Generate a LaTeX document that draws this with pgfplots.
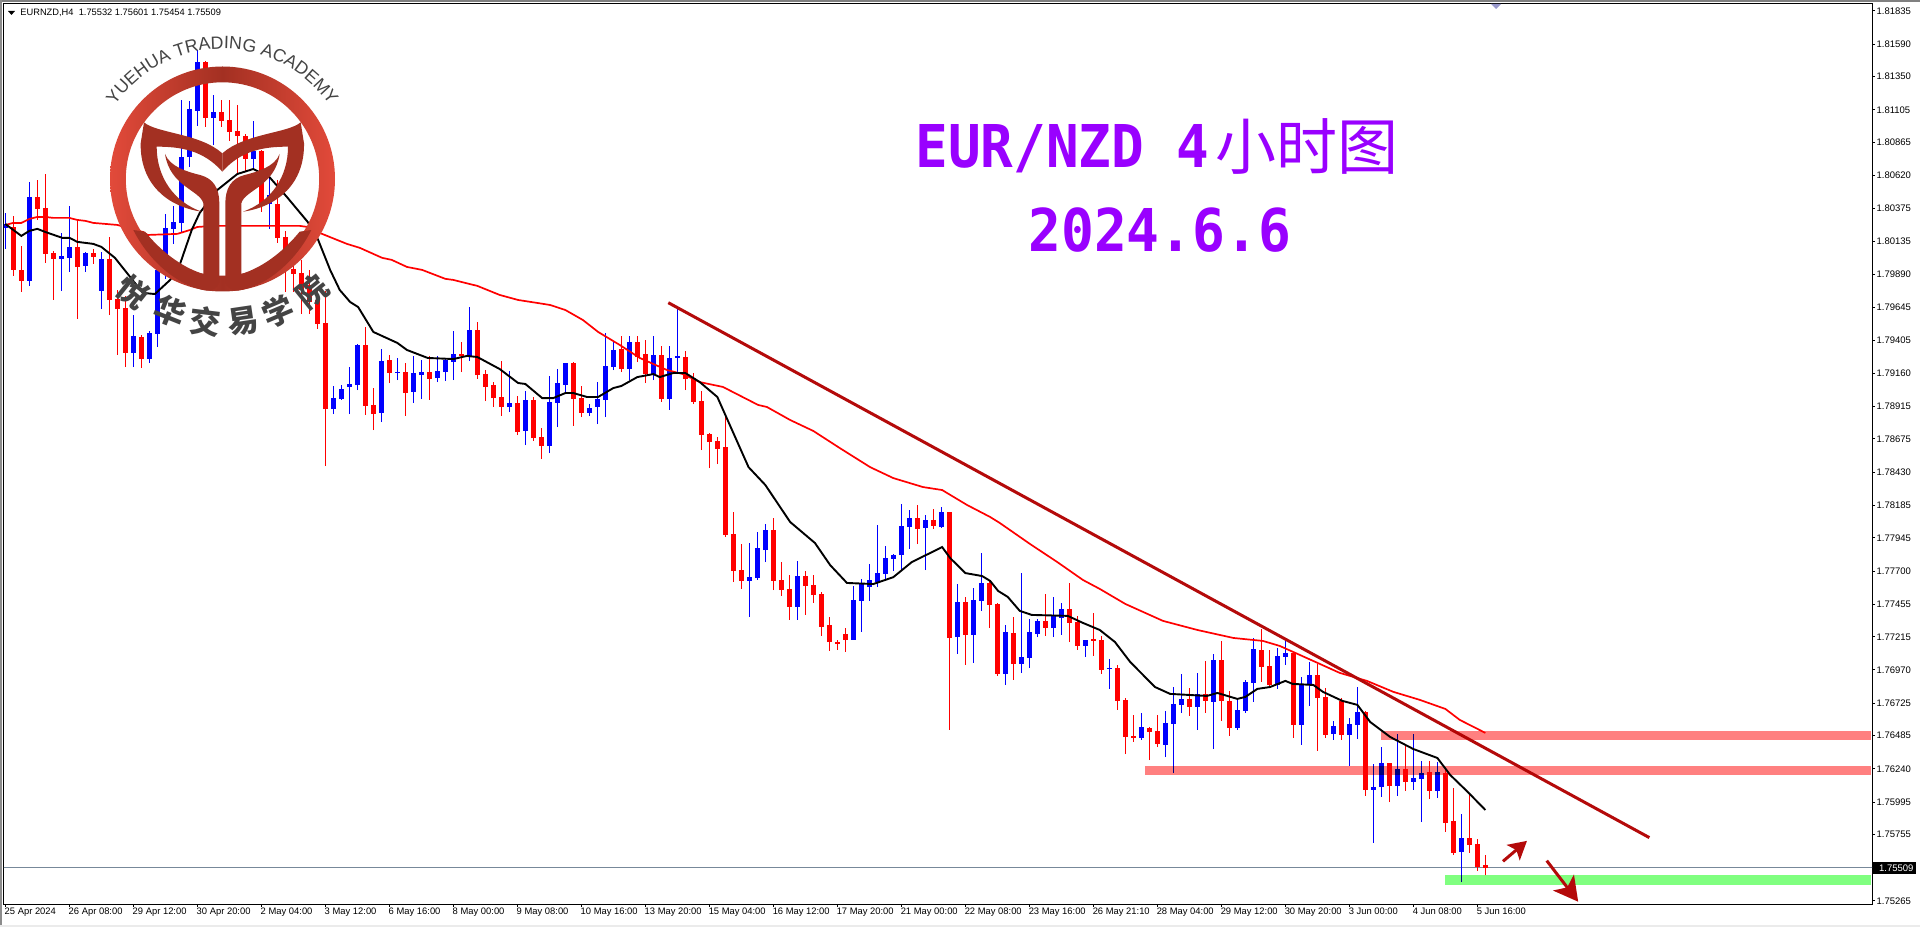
\documentclass[border=0pt]{standalone}
\usepackage{fontspec}
\usepackage{graphicx}
\usepackage{pgfplots}
\usepackage{pgfplotstable}
\pgfplotsset{compat=1.18}
\usetikzlibrary{arrows.meta,decorations.text}
\setmainfont{Liberation Sans}
\newfontfamily\cjk{Noto Sans CJK SC}
\newfontfamily\monob{DejaVu Sans Mono}
\definecolor{candleB}{HTML}{0000FF}
\definecolor{candleR}{HTML}{FF0000}
\definecolor{trend}{HTML}{B40A0A}
\definecolor{zoneR}{HTML}{FF8080}
\definecolor{zoneG}{HTML}{80FF80}
\definecolor{priceln}{HTML}{778899}
\definecolor{titlec}{HTML}{9900FF}
\definecolor{logoM}{HTML}{A33022}
\definecolor{logoE}{HTML}{E24A3A}
\definecolor{logoT}{HTML}{444444}
\pgfplotstableread{
i h t b l
1 1.80322 1.80240 1.79923 1.79879
2 1.80101 1.79923 1.79842 1.79760
4 1.80587 1.80461 1.80374 1.80292
5 1.80631 1.80381 1.80041 1.79975
6 1.80064 1.80049 1.80005 1.79701
9 1.80292 1.80093 1.79945 1.79561
11 1.80079 1.80049 1.80019 1.79967
13 1.80166 1.80005 1.79701 1.79590
14 1.79775 1.79709 1.79634 1.79295
15 1.79731 1.79642 1.79310 1.79206
17 1.79443 1.79428 1.79265 1.79199
25 1.81465 1.81458 1.81045 1.80978
27 1.81178 1.81089 1.81023 1.80978
28 1.81178 1.81030 1.80941 1.80875
29 1.81141 1.80949 1.80912 1.80639
30 1.80926 1.80912 1.80742 1.80646
32 1.80809 1.80801 1.80410 1.80351
34 1.80587 1.80410 1.80160 1.80123
35 1.80211 1.80166 1.79997 1.79760
36 1.79997 1.79931 1.79893 1.79760
37 1.79997 1.79901 1.79775 1.79597
38 1.79923 1.79812 1.79686 1.79597
39 1.79775 1.79701 1.79523 1.79487
40 1.79768 1.79531 1.78896 1.78475
45 1.79502 1.79369 1.78919 1.78852
46 1.79051 1.78926 1.78859 1.78741
48 1.79295 1.79258 1.79162 1.79088
50 1.79236 1.79169 1.79014 1.78845
53 1.79288 1.79169 1.79118 1.78963
57 1.79391 1.79302 1.79288 1.79169
59 1.79538 1.79480 1.79147 1.79118
60 1.79184 1.79154 1.79059 1.78955
61 1.79095 1.79073 1.78977 1.78911
62 1.79251 1.78985 1.78911 1.78845
64 1.78992 1.78941 1.78726 1.78704
66 1.78985 1.78963 1.78682 1.78660
67 1.78756 1.78689 1.78623 1.78526
71 1.79243 1.79236 1.78970 1.78771
72 1.79066 1.78977 1.78867 1.78837
77 1.79436 1.79339 1.79191 1.79169
79 1.79436 1.79391 1.79280 1.79243
80 1.79406 1.79302 1.79154 1.79088
82 1.79361 1.79295 1.78970 1.78948
85 1.79325 1.79280 1.79118 1.79036
86 1.79162 1.79125 1.78948 1.78933
87 1.79029 1.78955 1.78704 1.78593
88 1.78719 1.78711 1.78652 1.78460
89 1.78689 1.78660 1.78600 1.78489
90 1.78837 1.78615 1.77966 1.77951
91 1.78136 1.77973 1.77700 1.77619
92 1.77899 1.77707 1.77627 1.77568
96 1.78092 1.78003 1.77627 1.77560
97 1.77766 1.77634 1.77560 1.77516
98 1.77670 1.77568 1.77435 1.77339
100 1.77700 1.77663 1.77589 1.77376
101 1.77670 1.77597 1.77523 1.77465
102 1.77545 1.77530 1.77287 1.77221
103 1.77361 1.77302 1.77176 1.77111
104 1.77191 1.77176 1.77161 1.77118
105 1.77280 1.77235 1.77191 1.77103
114 1.78188 1.78092 1.78010 1.77899
116 1.78159 1.78077 1.78033 1.78010
118 1.78136 1.78136 1.77206 1.76527
120 1.77509 1.77472 1.77228 1.77007
123 1.77634 1.77612 1.77450 1.77280
124 1.77465 1.77457 1.76940 1.76926
126 1.77361 1.77243 1.77014 1.76896
130 1.77530 1.77332 1.77280 1.77221
133 1.77612 1.77420 1.77317 1.77176
134 1.77369 1.77324 1.77147 1.77118
136 1.77391 1.77199 1.77184 1.77074
137 1.77221 1.77191 1.76970 1.76940
139 1.77007 1.76985 1.76742 1.76675
140 1.76763 1.76749 1.76475 1.76349
141 1.76638 1.76483 1.76468 1.76438
143 1.76549 1.76542 1.76512 1.76305
144 1.76638 1.76520 1.76423 1.76401
148 1.76837 1.76756 1.76697 1.76631
150 1.77037 1.76793 1.76742 1.76653
152 1.77184 1.77044 1.76742 1.76594
153 1.76815 1.76742 1.76542 1.76483
157 1.77272 1.77118 1.76992 1.76881
158 1.77118 1.77000 1.76859 1.76852
161 1.77096 1.77096 1.76564 1.76468
164 1.77014 1.76933 1.76763 1.76372
165 1.76837 1.76771 1.76490 1.76468
167 1.76763 1.76742 1.76490 1.76453
170 1.76668 1.76660 1.76084 1.76040
173 1.76283 1.76283 1.76113 1.75995
175 1.76408 1.76239 1.76143 1.76077
178 1.76298 1.76217 1.76077 1.76017
180 1.76232 1.76210 1.75840 1.75774
181 1.76099 1.75855 1.75619 1.75604
183 1.76062 1.75729 1.75678 1.75619
184 1.75722 1.75685 1.75515 1.75486
185 1.75601 1.75532 1.75509 1.75454
}\redT
\pgfplotstableread{
i h t b l
0 1.80344 1.80262 1.80233 1.80079
3 1.80572 1.80461 1.79842 1.79805
7 1.80196 1.80027 1.80005 1.79768
8 1.80396 1.80093 1.80012 1.79908
10 1.80056 1.80049 1.79953 1.79908
12 1.80056 1.80005 1.79768 1.79634
16 1.79590 1.79436 1.79310 1.79206
18 1.79472 1.79458 1.79265 1.79236
19 1.79923 1.79923 1.79451 1.79354
20 1.80336 1.80233 1.79923 1.79857
21 1.80396 1.80277 1.80226 1.80115
22 1.81178 1.80757 1.80270 1.80196
23 1.81171 1.81111 1.80757 1.80684
24 1.81547 1.81458 1.81097 1.80986
26 1.81215 1.81089 1.81045 1.80845
31 1.81023 1.80801 1.80742 1.80661
33 1.80661 1.80477 1.80410 1.80226
41 1.79066 1.78977 1.78896 1.78859
42 1.79073 1.79044 1.78970 1.78963
43 1.79206 1.79081 1.79059 1.78859
44 1.79376 1.79369 1.79073 1.79036
47 1.79339 1.79251 1.78867 1.78800
49 1.79273 1.79169 1.79162 1.79110
51 1.79288 1.79162 1.79021 1.78941
52 1.79258 1.79169 1.79147 1.78970
54 1.79288 1.79177 1.79125 1.79095
55 1.79273 1.79258 1.79169 1.79103
56 1.79472 1.79302 1.79243 1.79110
58 1.79649 1.79480 1.79288 1.79251
63 1.79177 1.78941 1.78911 1.78874
65 1.79029 1.78963 1.78734 1.78630
68 1.79140 1.78948 1.78623 1.78571
69 1.79191 1.79088 1.78941 1.78763
70 1.79236 1.79236 1.79073 1.79007
73 1.78933 1.78904 1.78867 1.78845
74 1.79095 1.78970 1.78911 1.78785
75 1.79458 1.79214 1.78963 1.78837
76 1.79391 1.79332 1.79206 1.79184
78 1.79436 1.79391 1.79191 1.79110
81 1.79436 1.79295 1.79154 1.79110
83 1.79361 1.79273 1.78970 1.78889
84 1.79649 1.79288 1.79273 1.79154
93 1.77907 1.77655 1.77627 1.77361
94 1.77988 1.77870 1.77648 1.77634
95 1.78047 1.78003 1.77855 1.77766
99 1.77774 1.77663 1.77435 1.77339
106 1.77589 1.77487 1.77191 1.77191
107 1.77641 1.77604 1.77480 1.77250
108 1.77751 1.77634 1.77582 1.77480
109 1.78040 1.77685 1.77619 1.77582
110 1.77885 1.77796 1.77678 1.77641
111 1.77826 1.77818 1.77789 1.77700
112 1.78195 1.78033 1.77818 1.77707
113 1.78151 1.78092 1.78025 1.77863
115 1.78114 1.78077 1.78018 1.77707
117 1.78173 1.78136 1.78025 1.78018
119 1.77604 1.77472 1.77213 1.77088
121 1.77575 1.77487 1.77228 1.77022
122 1.77833 1.77612 1.77480 1.77406
125 1.77302 1.77250 1.76940 1.76859
127 1.77685 1.77066 1.77014 1.76948
128 1.77347 1.77250 1.77059 1.76985
129 1.77347 1.77332 1.77235 1.77213
131 1.77509 1.77369 1.77280 1.77213
132 1.77465 1.77420 1.77354 1.77228
135 1.77191 1.77191 1.77147 1.77066
138 1.77051 1.76985 1.76977 1.76830
142 1.76653 1.76549 1.76468 1.76453
145 1.76668 1.76579 1.76416 1.76327
146 1.76844 1.76719 1.76571 1.76210
147 1.76940 1.76756 1.76712 1.76653
149 1.76948 1.76793 1.76697 1.76527
151 1.77088 1.77044 1.76734 1.76386
154 1.76749 1.76675 1.76542 1.76527
155 1.76896 1.76881 1.76668 1.76653
156 1.77206 1.77125 1.76874 1.76734
159 1.77132 1.77074 1.76859 1.76830
160 1.77191 1.77096 1.77066 1.77007
162 1.76918 1.76859 1.76564 1.76416
163 1.77029 1.76933 1.76859 1.76705
166 1.76594 1.76557 1.76497 1.76453
168 1.76616 1.76571 1.76490 1.76261
169 1.76844 1.76660 1.76564 1.76460
171 1.76276 1.76106 1.76084 1.75693
172 1.76401 1.76283 1.76106 1.76032
174 1.76497 1.76239 1.76113 1.76040
176 1.76497 1.76172 1.76143 1.76084
177 1.76298 1.76210 1.76165 1.75847
179 1.76291 1.76217 1.76077 1.76025
182 1.75906 1.75729 1.75626 1.75404
}\blueT
\pgfplotstableread{
i p
0 1.80255
1 1.80270
2 1.80270
3 1.80299
4 1.80314
5 1.80314
6 1.80307
8 1.80307
9 1.80292
10 1.80285
11 1.80270
14 1.80255
17.2 1.80203
17.8 1.80181
21.5 1.80189
23.1 1.80218
24 1.80240
26 1.80248
33 1.80248
36.8 1.80248
37.8 1.80240
39.3 1.80196
42.7 1.80115
44.3 1.80086
47.1 1.80012
48.3 1.79997
50.2 1.79945
52.1 1.79923
55 1.79857
56 1.79849
59 1.79805
61.8 1.79738
64.1 1.79701
66.5 1.79679
68.1 1.79664
70 1.79627
72.2 1.79553
74.1 1.79465
76.8 1.79369
79.3 1.79273
82.7 1.79184
84.7 1.79154
86.8 1.79095
89.7 1.79059
94.1 1.78926
95.2 1.78911
98.1 1.78815
101 1.78734
104.3 1.78608
108.1 1.78467
111 1.78386
114.7 1.78320
117.1 1.78298
120.2 1.78188
123.1 1.78099
124.3 1.78055
128.1 1.77899
131.5 1.77766
134.7 1.77634
136.8 1.77568
140 1.77457
144.7 1.77332
149 1.77265
153.5 1.77206
157.2 1.77184
159.3 1.77147
161.8 1.77081
166.8 1.76948
170.2 1.76889
173.5 1.76808
176.8 1.76749
180 1.76682
181.8 1.76601
185 1.76505
}\maRed
\pgfplotstableread{
i p
0 1.80262
1 1.80218
2 1.80174
3 1.80211
4 1.80226
5 1.80203
7.1 1.80160
8 1.80160
9 1.80130
11 1.80115
12 1.80093
13.7 1.80012
15.6 1.79871
17.2 1.79753
18.7 1.79745
20.6 1.79849
21.8 1.79960
23.3 1.80218
24.3 1.80344
26.5 1.80513
29 1.80631
31 1.80668
33 1.80609
35.2 1.80461
37.8 1.80277
39.1 1.80145
40.6 1.79923
41.8 1.79775
43.1 1.79686
44.1 1.79649
46 1.79465
49 1.79384
50.2 1.79332
52.8 1.79273
56 1.79265
57.7 1.79288
59 1.79280
61.8 1.79191
64.1 1.79088
65 1.79081
67.1 1.78977
68.5 1.78977
70 1.79014
71 1.79014
72.7 1.78985
74.1 1.78985
76 1.79051
77 1.79066
79 1.79132
81 1.79154
81.8 1.79132
83.5 1.79162
85 1.79162
86.8 1.79095
89 1.78985
90 1.78852
92.9 1.78467
95 1.78335
98.1 1.78062
101.2 1.77907
103.1 1.77744
105.2 1.77612
108.5 1.77604
111 1.77655
113.3 1.77766
117.1 1.77877
118.1 1.77796
120 1.77685
122.1 1.77663
123.1 1.77627
124.1 1.77553
125.3 1.77509
126.8 1.77406
128.3 1.77376
132.8 1.77369
134.7 1.77317
136.8 1.77265
138.7 1.77176
140.6 1.77029
143.7 1.76844
145.6 1.76793
150.2 1.76778
151.5 1.76800
154 1.76756
155 1.76771
156.5 1.76830
158.1 1.76844
160 1.76889
160.9 1.76867
163.5 1.76859
164.7 1.76808
167.1 1.76742
169 1.76712
170.6 1.76586
173.1 1.76475
176 1.76386
179 1.76320
180.6 1.76195
182.8 1.76069
185 1.75936
}\maBlack
\newcommand\candleplots[2]{%
\addplot[draw=none,forget plot,error bars/.cd,y dir=plus,y explicit,error mark=none,error bar style={draw=#2,line width=0.6pt}] table[x=i,y=l,y error plus expr=\thisrow{h}-\thisrow{l}] {#1};
\addplot[draw=none,forget plot,error bars/.cd,y dir=plus,y explicit,error mark=none,error bar style={draw=#2,line width=2.5pt}] table[x=i,y=b,y error plus expr=\thisrow{t}-\thisrow{b}] {#1};
}
\begin{document}
\begin{tikzpicture}
\path[use as bounding box] (0,0) rectangle (960pt,463.5pt);
\fill[white] (0,0) rectangle (960pt,463.5pt);
\fill[black!50] (0,462.5pt) rectangle (960pt,463.5pt);
\fill[black!45] (0,0) rectangle (1pt,463.5pt);
\fill[black!8] (0,0) rectangle (960pt,1pt);
\begin{axis}[
  at={(2pt,11.5pt)},anchor=south west,scale only axis,width=934pt,height=450pt,
  xmin=-0.166,xmax=233.33,ymin=1.75242,ymax=1.81886,
  axis line style={line width=0.5pt,black},
  xtick pos=bottom,ytick pos=right,tick align=outside,
  major tick length=1.6pt,
  tick style={line width=0.5pt,black},
  scaled y ticks=false,
  xtick={0,8,16,24,32,40,48,56,64,72,80,88,96,104,112,120,128,136,144,152,160,168,176,184},
  xticklabels={25 Apr 2024,26 Apr 08:00,29 Apr 12:00,30 Apr 20:00,2 May 04:00,3 May 12:00,6 May 16:00,8 May 00:00,9 May 08:00,10 May 16:00,13 May 20:00,15 May 04:00,16 May 12:00,17 May 20:00,21 May 00:00,22 May 08:00,23 May 16:00,26 May 21:10,28 May 04:00,29 May 12:00,30 May 20:00,3 Jun 00:00,4 Jun 08:00,5 Jun 16:00},
  ytick={1.81835,1.81590,1.81350,1.81105,1.80865,1.80620,1.80375,1.80135,1.79890,1.79645,1.79405,1.79160,1.78915,1.78675,1.78430,1.78185,1.77945,1.77700,1.77455,1.77215,1.76970,1.76725,1.76485,1.76240,1.75995,1.75755,1.75265},
  yticklabels={1.81835,1.81590,1.81350,1.81105,1.80865,1.80620,1.80375,1.80135,1.79890,1.79645,1.79405,1.79160,1.78915,1.78675,1.78430,1.78185,1.77945,1.77700,1.77455,1.77215,1.76970,1.76725,1.76485,1.76240,1.75995,1.75755,1.75265},
  xticklabel style={font=\fontsize{4.7}{5}\selectfont,anchor=north west,inner sep=0pt,xshift=-0.5pt,yshift=-0.2pt},
  yticklabel style={font=\fontsize{4.75}{5}\selectfont,anchor=west,inner sep=0pt,xshift=0.5pt},
]
\addplot[priceln,line width=0.6pt,forget plot] coordinates {(-1,1.75509)(234,1.75509)};
\candleplots{\blueT}{candleB}
\candleplots{\redT}{candleR}
\addplot[candleR,line width=0.85pt,forget plot] table[x=i,y=p] {\maRed};
\addplot[black,line width=0.95pt,forget plot] table[x=i,y=p] {\maBlack};
\addplot[trend,line width=1.5pt,forget plot] coordinates {(82.87,1.79681)(205.5,1.75732)};
\addplot[fill=zoneR,draw=none,forget plot,blend mode=multiply] coordinates {(171.96,1.76520)(233.2,1.76520)(233.2,1.76453)(171.96,1.76453)} --cycle;
\addplot[fill=zoneR,draw=none,forget plot,blend mode=multiply] coordinates {(142.46,1.76261)(233.2,1.76261)(233.2,1.76195)(142.46,1.76195)} --cycle;
\addplot[fill=zoneG,draw=none,forget plot,blend mode=multiply] coordinates {(179.96,1.75456)(233.2,1.75456)(233.2,1.75382)(179.96,1.75382)} --cycle;
\addplot[trend,line width=1.5pt,forget plot,-{Stealth[length=9pt,width=10pt,inset=2pt]}] coordinates {(187.2,1.75557)(190.2,1.75708)};
\addplot[trend,line width=1.5pt,forget plot,-{Stealth[length=12pt,width=13pt,inset=3pt]}] coordinates {(192.67,1.75562)(196.6,1.75259)};
\end{axis}
% pixel overlay: top left origin, 1 unit = 1 reference pixel
\begin{scope}[x=0.5pt,y=-0.5pt,shift={(0pt,463.5pt)}]
\fill[black] (8,11) -- (15,11) -- (11.5,15) -- cycle;
\node[anchor=west,inner sep=0pt,font=\fontsize{4.65}{5}\selectfont] at (20,13) {EURNZD,H4\ \ 1.75532 1.75601 1.75454 1.75509};
\fill[black!50!blue!40!white] (1491,4) -- (1501,4) -- (1496,9) -- cycle;
\fill[black] (1873,862) rectangle (1916,874);
\node[anchor=west,inner sep=0pt,text=white,font=\fontsize{4.75}{5}\selectfont] at (1878.7,868) {1.75509};
\node[anchor=base west,inner sep=0pt,text=titlec] at (915,168) {\scalebox{0.92}[1]{\fontsize{29.5}{30}\selectfont\monob\bfseries EUR/NZD 4}};
\node[anchor=base west,inner sep=0pt,text=titlec] at (1215,170) {\fontsize{30.5}{31}\selectfont\cjk 小时图};
\node[anchor=base west,inner sep=0pt,text=titlec] at (1028,252) {\scalebox{0.925}[1]{\fontsize{29.5}{30}\selectfont\monob\bfseries 2024.6.6}};
% logo
\shade[left color=logoE,right color=logoE,middle color=logoM,even odd rule]
  (222.5,179) circle (112.5) (222.5,179) circle (96.7);
\begin{scope}[x=0.16667pt,y=-0.16667pt]
\def\halflogo{%
 \fill[logoM] (432,367) .. controls (470,400) and (600,400) .. (667,460)
   -- (667,515) .. controls (610,450) and (540,440) .. (470,440)
   .. controls (470,530) and (520,605) .. (605,635)
   .. controls (500,620) and (420,550) .. (422,430) -- cycle;
 \fill[logoM] (495,462) .. controls (510,500) and (560,515) .. (600,525)
   .. controls (640,535) and (658,565) .. (658,610) -- (658,845)
   .. controls (650,868) and (635,873) .. (620,872)
   .. controls (540,860) and (450,790) .. (400,690)
   -- (435,695) .. controls (480,750) and (540,800) .. (610,822)
   -- (610,610) .. controls (600,570) and (510,560) .. (495,462) -- cycle;
}
\halflogo
\begin{scope}[shift={(1334,0)},xscale=-1]\halflogo\end{scope}
\foreach \ch/\px/\py/\rr in {悦/400/875/-38.7,华/510/935/-21.8,交/615/965/-6.9,易/730/965/8.4,学/835/935/23,院/935/875/38.8}{
  \node[inner sep=0pt,text=logoT,rotate=\rr,font=\fontsize{15.5}{16}\selectfont\cjk\bfseries] at (\px,\py) {\ch};
}
\end{scope}
\end{scope}
\begin{scope}[x=0.5pt,y=0.5pt,shift={(0pt,463.5pt)}]
\path[decorate,decoration={text along path,text align=center,
  text={|\fontsize{8.9}{10}\selectfont\color{logoT}|YUEHUA TRADING ACADEMY}}]
  (222.3,-179)+(146:130) arc[start angle=146,end angle=34,radius=130];
\end{scope}
\end{tikzpicture}
\end{document}
